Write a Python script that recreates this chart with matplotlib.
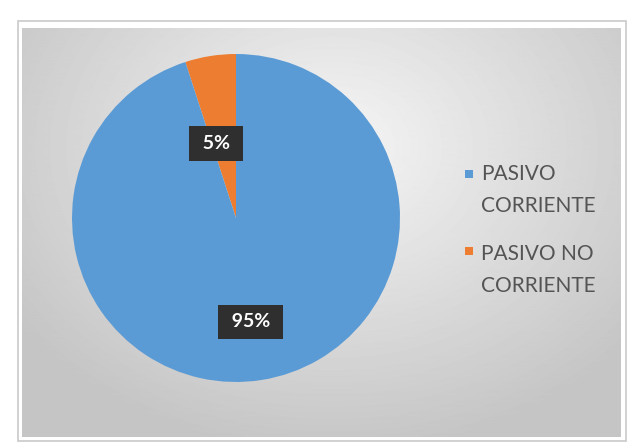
import numpy as np
import matplotlib
matplotlib.use("Agg")
import matplotlib.pyplot as plt
from matplotlib.patches import Rectangle

categories = ["PASIVO NO\nCORRIENTE", "PASIVO\nCORRIENTE"]
shares = [5, 95]
colors = ["#ED7D31", "#5B9BD5"]
legend_order = [1, 0]  # legend lists CORRIENTE first

W, H = 629, 444
fig = plt.figure(figsize=(W / 100, H / 100), dpi=100)
fig.patch.set_facecolor("white")


def fx(px):
    return px / W


def fy(py):
    return 1 - py / H


# gray plot area with a soft radial gradient
bg = fig.add_axes([fx(22), fy(437), fx(621 - 22), (437 - 28) / H])
yy, xx = np.mgrid[0:409, 0:599]
d = np.sqrt(((xx - 310) / 380.0) ** 2 + ((yy - 120) / 300.0) ** 2)
shade = np.clip(0.965 - 0.19 * d, 0.77, 0.965)
bg.imshow(shade, cmap="gray", vmin=0, vmax=1, aspect="auto",
          extent=[0, 1, 0, 1], origin="upper")
bg.set_axis_off()

# thin selection frame around the chart
frame = fig.add_axes([0, 0, 1, 1], facecolor="none")
frame.set_xlim(0, W); frame.set_ylim(H, 0); frame.set_axis_off()
frame.add_patch(Rectangle((18, 21), 608, 420, fill=False, ec="#c9c9c9", lw=1.2))

# pie
ax = fig.add_axes([fx(72), fy(382), 328 / W, 328 / H])
wedges, _ = ax.pie(shares, colors=colors, startangle=90, counterclock=True,
                   radius=1.0)
ax.set_xlim(-1, 1); ax.set_ylim(-1, 1)
ax.set_aspect("auto")

# percent labels: distance from centre and a small angular nudge per wedge
label_dist = [0.47, 0.64]
label_nudge = [6, -1]
for w, v, r, da in zip(wedges, shares, label_dist, label_nudge):
    ang = np.deg2rad((w.theta1 + w.theta2) / 2 + da)
    ax.text(r * np.cos(ang), r * np.sin(ang), f" {v}% ", ha="center",
            va="center", color="white", fontsize=14, fontweight="bold",
            family="Lato",
            bbox=dict(boxstyle="square,pad=0.45", fc="#2f2f2f", ec="none"))

# legend: square marker aligned with first line of each label
marker_y = [174, 251]
block_y = [190, 270]
for i, my, by in zip(legend_order, marker_y, block_y):
    fig.patches.append(Rectangle((fx(465), fy(my + 4)), 8 / W, 8 / H,
                                 transform=fig.transFigure, fc=colors[i],
                                 ec="none"))
    fig.text(fx(481), fy(by), categories[i], ha="left", va="center",
             color="#545454", fontsize=15, family="Lato", linespacing=1.75)

fig.savefig("out.png", dpi=100)
